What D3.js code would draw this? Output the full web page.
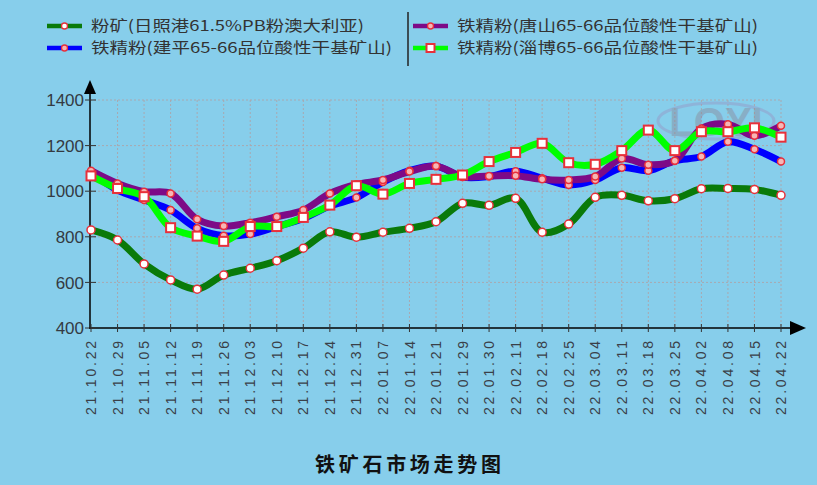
<!DOCTYPE html>
<html><head><meta charset="utf-8">
<script src="https://cdn.jsdelivr.net/npm/d3@7"></script>
<style>body{margin:0;background:#87ceeb;}svg{display:block;}</style>
</head><body>
<svg id="c" width="817" height="485"></svg>
<script>
const dates = ["21.10.22","21.10.29","21.11.05","21.11.12","21.11.19","21.11.26","21.12.03","21.12.10","21.12.17","21.12.24","21.12.31","22.01.07","22.01.14","22.01.21","22.01.29","22.01.30","22.02.11","22.02.18","22.02.25","22.03.04","22.03.11","22.03.18","22.03.25","22.04.02","22.04.08","22.04.15","22.04.22"];
const rizhao   = [830,786,681,611,570,632,662,695,750,822,798,820,837,866,947,938,969,820,856,973,982,958,967,1011,1012,1008,982];
const jianping = [1080,1005,961,917,837,805,812,845,880,935,972,1040,1090,1110,1062,1065,1088,1057,1027,1049,1103,1090,1134,1152,1217,1184,1130];
const tangshan = [1090,1034,998,990,877,847,862,888,917,990,1030,1049,1086,1110,1065,1067,1068,1052,1049,1064,1143,1116,1134,1275,1294,1243,1287];
const zibo     = [1067,1012,976,840,803,780,845,845,885,939,1024,987,1034,1052,1071,1130,1170,1210,1125,1118,1178,1268,1178,1261,1261,1278,1237];
const yTicks = [400,600,800,1000,1200,1400];
const seriesNames = ["粉矿(日照港61.5%PB粉澳大利亚)","铁精粉(建平65-66品位酸性干基矿山)","铁精粉(唐山65-66品位酸性干基矿山)","铁精粉(淄博65-66品位酸性干基矿山)"];
const title = "铁矿石市场走势图";

const svg = d3.select("#c");
const x = d3.scalePoint().domain(dates).range([91, 781]);
const y = d3.scaleLinear().domain([400, 1400]).range([328, 100]);

// grid
const g = svg.append("g");
g.selectAll(".hg").data(yTicks.filter(d => d > 400)).join("line")
  .attr("x1", 90).attr("x2", 781).attr("y1", d => y(d)).attr("y2", d => y(d))
  .attr("stroke", "#a8a8b0").attr("stroke-width", 1).attr("stroke-dasharray", "2,2");
g.selectAll(".vg").data(dates.slice(1)).join("line")
  .attr("x1", d => x(d)).attr("x2", d => x(d)).attr("y1", 100).attr("y2", 328)
  .attr("stroke", "#a8a8b0").attr("stroke-width", 1).attr("stroke-dasharray", "2,2");

// watermark
const wm = svg.append("g").attr("opacity", 0.4);
wm.append("ellipse").attr("cx", 716).attr("cy", 121).attr("rx", 58).attr("ry", 18)
  .attr("fill", "none").attr("stroke", "#9a8fc0").attr("stroke-width", 3);
wm.append("text").attr("x", 716).attr("y", 136).attr("text-anchor", "middle")
  .attr("font-family", "Liberation Sans, Arial").attr("font-size", 40).attr("font-weight", "bold")
  .attr("fill", "#8a7f90").text("LOYI");

// axes
svg.append("line").attr("x1", 90).attr("x2", 90).attr("y1", 90).attr("y2", 329).attr("stroke", "#000").attr("stroke-width", 1.5);
svg.append("path").attr("d", "M84,94 L90,80 L96,94 Z").attr("fill", "#000");
svg.append("line").attr("x1", 89).attr("x2", 795).attr("y1", 328).attr("y2", 328).attr("stroke", "#000").attr("stroke-width", 1.5);
svg.append("path").attr("d", "M790,321 L806,328 L790,335 Z").attr("fill", "#000");

svg.selectAll(".yt").data(yTicks).join("line")
  .attr("x1", 85).attr("x2", 96).attr("y1", d => y(d)).attr("y2", d => y(d)).attr("stroke", "#333");
svg.selectAll(".ytl").data(yTicks).join("text")
  .attr("x", 84).attr("y", d => y(d)).attr("dy", "0.36em").attr("text-anchor", "end")
  .attr("font-family", "Liberation Sans, Arial").attr("font-size", 17).attr("fill", "#343a42")
  .text(d => d);
svg.selectAll(".xt").data(dates).join("line")
  .attr("x1", d => x(d)).attr("x2", d => x(d)).attr("y1", 324).attr("y2", 332).attr("stroke", "#333");
svg.selectAll(".xtl").data(dates).join("text")
  .attr("transform", d => `translate(${x(d)},341) rotate(-90)`)
  .attr("dy", "0.36em").attr("text-anchor", "end")
  .attr("font-family", "Liberation Sans, Arial").attr("font-size", 14).attr("fill", "#3a4048")
  .attr("textLength", 74).attr("lengthAdjust", "spacing")
  .text(d => d);

// lines
const line = d3.line().x((d, i) => x(dates[i])).y(d => y(d)).curve(d3.curveCatmullRom.alpha(0.5));
const series = [
  {v: rizhao, color: "#0a7a0a", w: 7, m: "circle", r: 4},
  {v: jianping, color: "#0000ff", w: 7, m: "dot", r: 3.5},
  {v: tangshan, color: "#7d0a87", w: 7, m: "dot", r: 3.5},
  {v: zibo, color: "#00ff00", w: 7, m: "square", r: 4.5}
];
series.forEach(s => {
  svg.append("path").attr("d", line(s.v)).attr("fill", "none").attr("stroke", s.color)
    .attr("stroke-width", s.w).attr("stroke-linejoin", "round").attr("stroke-linecap", "round");
});
series.forEach(s => {
  if (s.m === "square") {
    svg.append("g").selectAll("rect").data(s.v).join("rect")
      .attr("x", (d, i) => x(dates[i]) - s.r).attr("y", d => y(d) - s.r)
      .attr("width", s.r * 2).attr("height", s.r * 2)
      .attr("fill", "#fff").attr("stroke", "#e8303a").attr("stroke-width", 2);
  } else {
    svg.append("g").selectAll("circle").data(s.v).join("circle")
      .attr("cx", (d, i) => x(dates[i])).attr("cy", d => y(d)).attr("r", s.r)
      .attr("fill", s.m === "circle" ? "#fff" : "#f6b6b6").attr("stroke", "#e8303a").attr("stroke-width", 1.5);
  }
});

// legend
const leg = [
  {x: 47, y: 26, s: series[0], t: seriesNames[0], w: 273},
  {x: 47, y: 48, s: series[1], t: seriesNames[1], w: 301},
  {x: 413, y: 26, s: series[2], t: seriesNames[2], w: 301},
  {x: 413, y: 48, s: series[3], t: seriesNames[3], w: 301}
];
svg.append("line").attr("x1", 408).attr("x2", 408).attr("y1", 12).attr("y2", 66).attr("stroke", "#222").attr("stroke-width", 1.5);
leg.forEach(l => {
  svg.append("line").attr("x1", l.x).attr("x2", l.x + 35).attr("y1", l.y).attr("y2", l.y)
    .attr("stroke", l.s.color).attr("stroke-width", 4.5);
  if (l.s.m === "square") {
    svg.append("rect").attr("x", l.x + 13.5).attr("y", l.y - 4).attr("width", 8).attr("height", 8)
      .attr("fill", "#fff").attr("stroke", "#e8303a").attr("stroke-width", 2);
  } else {
    svg.append("circle").attr("cx", l.x + 17.5).attr("cy", l.y).attr("r", 3)
      .attr("fill", l.s.m === "circle" ? "#fff" : "#f6b6b6").attr("stroke", "#e8303a").attr("stroke-width", 1.3);
  }
  svg.append("text").attr("x", l.x + 44).attr("y", l.y).attr("dy", "0.35em")
    .attr("font-family", "Noto Sans CJK SC").attr("font-size", 15).attr("fill", "#333")
    .attr("textLength", l.w).attr("lengthAdjust", "spacingAndGlyphs").text(l.t);
});

svg.append("text").attr("x", 408).attr("y", 465).attr("dy", "0.36em").attr("text-anchor", "middle")
  .attr("font-family", "Noto Sans CJK SC").attr("font-size", 20).attr("font-weight", "bold").attr("fill", "#111")
  .attr("textLength", 186).attr("lengthAdjust", "spacing").text(title);
</script>
</body></html>
